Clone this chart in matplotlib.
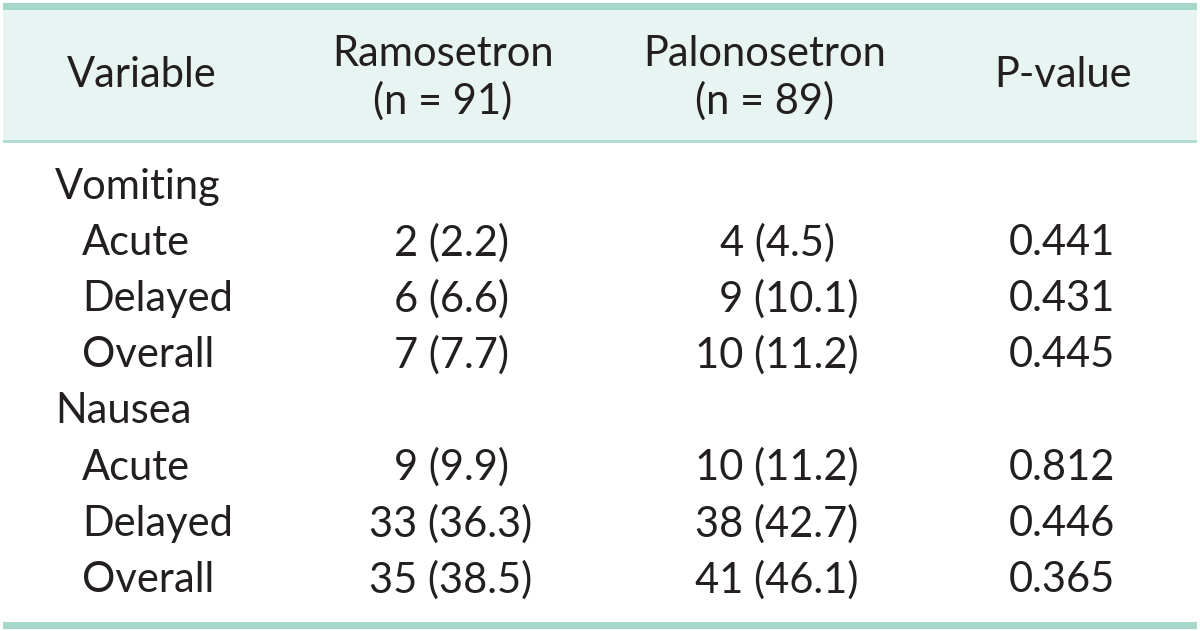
import matplotlib.pyplot as plt

# table contents
header_var = 'Variable'
header_groups = ['Ramosetron\n(n = 91)', 'Palonosetron\n(n = 89)']
header_p = 'P-value'

row_labels = ['Vomiting', 'Acute', 'Delayed', 'Overall',
              'Nausea', 'Acute', 'Delayed', 'Overall']
is_group = [True, False, False, False, True, False, False, False]
ramosetron = ['', '2 (2.2)', '6 (6.6)', '7 (7.7)',
              '', '9 (9.9)', '33 (36.3)', '35 (38.5)']
palonosetron = ['', '4 (4.5)', '\u20079 (10.1)', '10 (11.2)',
                '', '10 (11.2)', '38 (42.7)', '41 (46.1)']
p_values = ['', '0.441', '0.431', '0.445',
            '', '0.812', '0.446', '0.365']

plt.rcParams['font.family'] = ['Lato', 'DejaVu Sans']
txt = '#231f20'
band = '#a5d8cb'
head_bg = '#e7f4f2'
thin = '#b3ddd3'
fs = 30

fig = plt.figure(figsize=(12, 6.31), dpi=100)
ax = fig.add_axes([0, 0, 1, 1])
ax.set_xlim(0, 1200)
ax.set_ylim(631, 0)
ax.axis('off')

# header background and rules
ax.axhspan(10, 140, xmin=3/1200, xmax=1197/1200, color=head_bg, lw=0)
ax.axhspan(3, 10, xmin=3/1200, xmax=1197/1200, color=band, lw=0)
ax.axhspan(140, 143, xmin=3/1200, xmax=1197/1200, color=thin, lw=0)
ax.axhspan(622, 629, xmin=3/1200, xmax=1197/1200, color=band, lw=0)

col_x = [142, 451, 777, 1062]
head_x = [142, 443, 765, 1063]
ax.text(head_x[0], 75, header_var, ha='center', va='center', fontsize=fs, color=txt)
for x, h in zip(head_x[1:3], header_groups):
    ax.text(x, 78, h, ha='center', va='center', fontsize=fs, color=txt,
            linespacing=1.27, multialignment='center')
ax.text(head_x[3], 75, header_p, ha='center', va='center', fontsize=fs, color=txt)

y0, dy = 187, 56.1
for i, lab in enumerate(row_labels):
    y = y0 + i * dy
    ax.text(55 if is_group[i] else 82, y, lab, ha='left', va='center',
            fontsize=fs, color=txt)
    ax.text(col_x[1], y, ramosetron[i], ha='center', va='center', fontsize=fs, color=txt)
    ax.text(col_x[2], y, palonosetron[i], ha='center', va='center', fontsize=fs, color=txt)
    ax.text(col_x[3], y, p_values[i], ha='center', va='center', fontsize=fs, color=txt)

fig.savefig('out.png', dpi=100, facecolor='white')
